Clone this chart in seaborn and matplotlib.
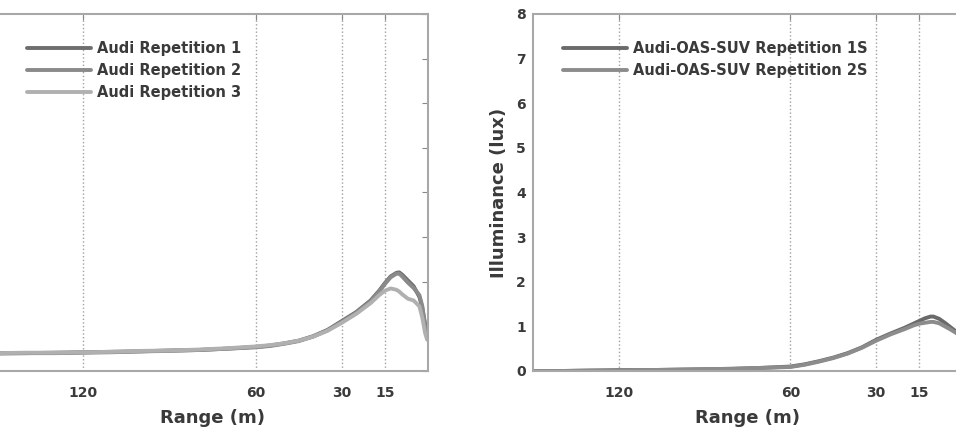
import numpy as np
import pandas as pd
import matplotlib
matplotlib.use("Agg")
import matplotlib.pyplot as plt
import seaborn as sns

# Left panel: Audi repetitions (range in m, illuminance in lux)
left_range = [150, 140, 130, 120, 110, 100, 90, 80, 70, 60, 55, 50, 45, 40, 35,
              30, 25, 20, 17, 15, 13, 11, 10, 9, 7, 5, 3, 2, 1, 0.3]
audi_rep1 = [0.40, 0.40, 0.41, 0.42, 0.43, 0.44, 0.46, 0.47, 0.50, 0.54, 0.57, 0.62, 0.68, 0.78, 0.92,
             1.12, 1.32, 1.58, 1.80, 1.97, 2.12, 2.20, 2.21, 2.16, 2.03, 1.90, 1.66, 1.42, 1.05, 0.85]
audi_rep2 = [0.39, 0.40, 0.40, 0.41, 0.42, 0.44, 0.45, 0.47, 0.50, 0.53, 0.56, 0.61, 0.67, 0.77, 0.91,
             1.10, 1.30, 1.56, 1.78, 1.95, 2.10, 2.18, 2.18, 2.12, 1.98, 1.86, 1.70, 1.46, 1.00, 0.80]
audi_rep3 = [0.40, 0.41, 0.41, 0.42, 0.43, 0.45, 0.46, 0.48, 0.51, 0.55, 0.58, 0.62, 0.68, 0.77, 0.90,
             1.08, 1.28, 1.52, 1.70, 1.80, 1.85, 1.82, 1.78, 1.72, 1.62, 1.58, 1.45, 1.20, 0.85, 0.70]
left_labels = ["Audi Repetition 1", "Audi Repetition 2", "Audi Repetition 3"]

# Right panel: Audi-OAS-SUV repetitions
right_range = [150, 140, 130, 120, 110, 100, 90, 80, 70, 60, 55, 50, 45, 40, 35,
               30, 25, 20, 17, 15, 13, 11, 10, 8, 6, 4, 2, 0]
suv_rep1 = [0.00, 0.00, 0.01, 0.02, 0.02, 0.03, 0.04, 0.05, 0.07, 0.10, 0.15, 0.22, 0.30, 0.40, 0.53,
            0.70, 0.84, 0.97, 1.06, 1.12, 1.18, 1.22, 1.22, 1.17, 1.08, 0.98, 0.88, 0.80]
suv_rep2 = [0.00, 0.00, 0.01, 0.01, 0.02, 0.03, 0.04, 0.05, 0.07, 0.09, 0.14, 0.21, 0.29, 0.39, 0.52,
            0.68, 0.82, 0.94, 1.02, 1.06, 1.08, 1.10, 1.10, 1.07, 1.00, 0.93, 0.85, 0.78]
right_labels = ["Audi-OAS-SUV Repetition 1S", "Audi-OAS-SUV Repetition 2S"]

x_ticks = [120, 60, 30, 15]
y_ticks = [0, 1, 2, 3, 4, 5, 6, 7, 8]

sns.set_style("white")
plt.rcParams["font.family"] = ["DejaVu Sans"]
plt.rcParams["font.weight"] = "bold"

df_left = pd.DataFrame({
    "range": left_range * 3,
    "lux": audi_rep1 + audi_rep2 + audi_rep3,
    "series": sum([[lab] * len(left_range) for lab in left_labels], []),
})
df_right = pd.DataFrame({
    "range": right_range * 2,
    "lux": suv_rep1 + suv_rep2,
    "series": sum([[lab] * len(right_range) for lab in right_labels], []),
})

W, H = 956, 436
fig = plt.figure(figsize=(W / 100, H / 100), dpi=100)
ax_l = fig.add_axes([-3 / W, 1 - 371 / H, 431 / W, 357 / H])
ax_r = fig.add_axes([533 / W, 1 - 371 / H, 429 / W, 357 / H])

sns.lineplot(data=df_left, x="range", y="lux", hue="series", ax=ax_l,
             palette=["#6e6e6e", "#8a8a8a", "#b0b0b0"], linewidth=2.8)
sns.lineplot(data=df_right, x="range", y="lux", hue="series", ax=ax_r,
             palette=["#6a6a6a", "#8c8c8c"], linewidth=2.8)

txt = "#3a3a3a"
for ax in (ax_l, ax_r):
    ax.set_xlim(150, 0)
    ax.set_ylim(0, 8)
    ax.set_xticks(x_ticks)
    ax.set_yticks(y_ticks)
    ax.tick_params(axis="both", direction="in", top=True, right=True,
                   length=4, color="#888888", labelsize=10, labelcolor=txt)
    ax.tick_params(axis="x", pad=11)
    ax.tick_params(axis="y", pad=5)
    ax.grid(axis="x", linestyle=":", color="#a0a0a0", linewidth=1)
    for s in ax.spines.values():
        s.set_color("#a8a8a8")
        s.set_linewidth(1.5)
    ax.set_xlabel("Range (m)", fontsize=13, fontweight="bold", color=txt, labelpad=6)
    ax.legend(frameon=False, loc="upper left", bbox_to_anchor=(0.07, 0.925),
              borderaxespad=0, borderpad=0, handlelength=4.4, handletextpad=0.4,
              labelspacing=0.5, prop={"size": 10.5, "weight": "bold"},
              labelcolor=txt)

# the left panel's y labels lie outside the cropped picture
ax_l.tick_params(axis="y", labelleft=False)
ax_l.set_ylabel("")
ax_r.set_ylabel("Illuminance (lux)", fontsize=13, fontweight="bold", color=txt, labelpad=6)

fig.savefig("out.png", dpi=100)
